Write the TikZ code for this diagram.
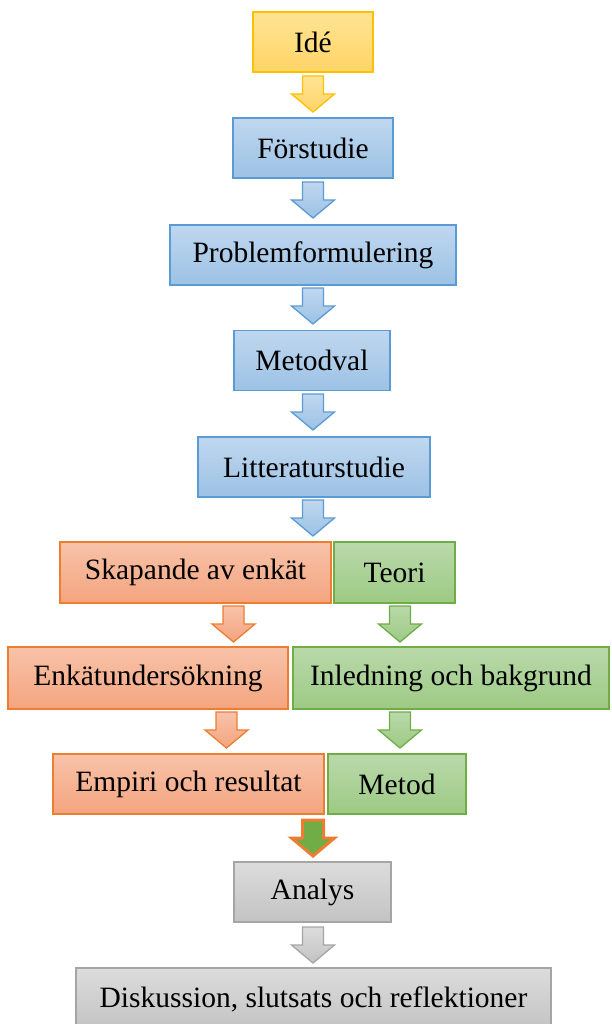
\documentclass[tikz,border=0pt]{standalone}
\usepackage{fontspec}
\setmainfont{Liberation Serif}
\usetikzlibrary{positioning}

% colours of the boxes
\definecolor{gulkant}{HTML}{FFC000}
\definecolor{gultopp}{HTML}{FFE495}
\definecolor{gulbotten}{HTML}{FFD466}
\definecolor{blakant}{HTML}{5B9BD5}
\definecolor{blatopp}{HTML}{C0D7EF}
\definecolor{blabotten}{HTML}{9CC2E5}
\definecolor{orkant}{HTML}{ED7D31}
\definecolor{ortopp}{HTML}{F8C3A9}
\definecolor{orbotten}{HTML}{F4A47F}
\definecolor{grkant}{HTML}{70AD47}
\definecolor{grtopp}{HTML}{BAD9AB}
\definecolor{grbotten}{HTML}{9DCA84}
\definecolor{grafyll}{HTML}{70AD47}
\definecolor{gratopp}{HTML}{DCDCDC}
\definecolor{grabotten}{HTML}{C3C3C3}
\definecolor{grakant}{HTML}{A5A5A5}

\begin{document}
\begin{tikzpicture}[x=1pt,y=-1pt]
		\newcommand{\mitt}{313}
		\newcommand{\kant}{1.3pt} % width of the borders

		% set the styles of the boxes and the block arrows
		\tikzset{
			box/.style={
				draw,
				line width=\kant,
				minimum height=60pt,
				inner sep=0pt,
				font=\fontsize{29.5}{34}\selectfont
				},
			gul/.style={box, draw=gulkant, top color=gultopp, bottom color=gulbotten},
			bla/.style={box, draw=blakant, top color=blatopp, bottom color=blabotten},
			ora/.style={box, draw=orkant, top color=ortopp, bottom color=orbotten},
			gro/.style={box, draw=grkant, top color=grtopp, bottom color=grbotten},
			gra/.style={box, draw=grakant, top color=gratopp, bottom color=grabotten},
			pics/pil/.style={code={
				\path[pic actions] (-10.5,0) -- (10.5,0) -- (10.5,18) -- (21.5,18)
					-- (0,36) -- (-21.5,18) -- (-10.5,18) -- cycle;
				}}
		}

		\useasboundingbox (0,0) rectangle (611,1024);

		% main column
		\node[gul, minimum width=120pt] (ide) at (\mitt,42) {Idé};
		\node[bla, minimum width=160pt] (forstudie) at (\mitt,148) {Förstudie};
		\node[bla, minimum width=286pt] (problem) at (\mitt,255) {Problemformulering};
		\node[bla, minimum width=156pt] (metodval) at (312,360.5) {Metodval};
		\node[bla, minimum width=232pt] (litteratur) at (314,467) {Litteraturstudie};

		% two branches
		\node[ora, minimum width=271pt, minimum height=61pt] (skapande) at (195.5,572.5) {Skapande av enkät};
		\node[gro, minimum width=121pt, minimum height=61pt] (teori) at (394.5,572.5) {Teori};
		\node[ora, minimum width=280pt, minimum height=62pt] (enkat) at (148,678) {Enkätundersökning};
		\node[gro, minimum width=316pt, minimum height=62pt] (inledning) at (451,678) {Inledning och bakgrund};
		\node[ora, minimum width=271pt] (empiri) at (188.5,784) {Empiri och resultat};
		\node[gro, minimum width=138pt] (metod) at (397,784) {Metod};

		% end of the chain
		\node[gra, minimum width=157pt] (analys) at (312.5,892) {Analys};
		\node[gra, minimum width=475pt, minimum height=62pt] (diskussion) at (313.5,999) {Diskussion, slutsats och reflektioner};

		% block arrows
		\pic[draw=gulkant, line width=\kant, top color=gultopp, bottom color=gulbotten] at (\mitt,76) {pil};
		\foreach \y in {182,288,394,500}
			\pic[draw=blakant, line width=\kant, top color=blatopp, bottom color=blabotten] at (\mitt,\y) {pil};
		\pic[draw=orkant, line width=\kant, top color=ortopp, bottom color=orbotten] at (233.5,606) {pil};
		\pic[draw=orkant, line width=\kant, top color=ortopp, bottom color=orbotten] at (226.5,712) {pil};
		\foreach \y in {606,712}
			\pic[draw=grkant, line width=\kant, top color=grtopp, bottom color=grbotten] at (400,\y) {pil};
		\pic[draw=orkant, line width=3pt, fill=grafyll, line join=miter] at (\mitt,820) {pil};
		\pic[draw=grakant, line width=\kant, top color=gratopp, bottom color=grabotten] at (\mitt,927) {pil};
\end{tikzpicture}
\end{document}
